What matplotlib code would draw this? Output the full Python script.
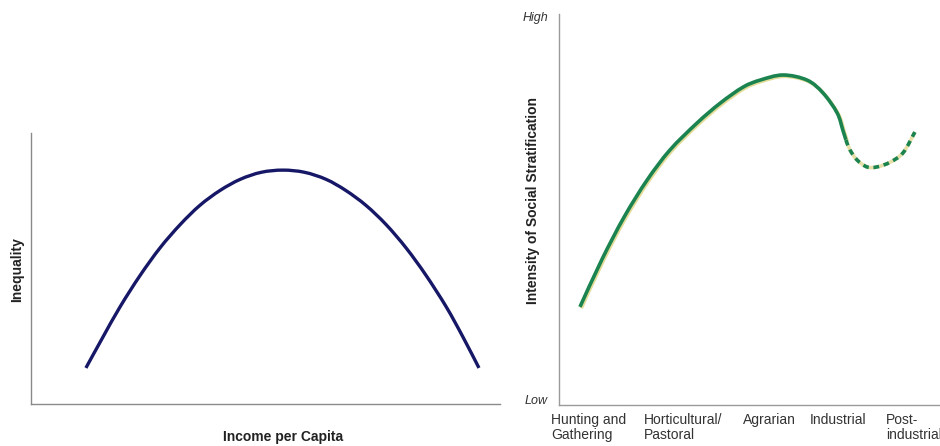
import numpy as np
import matplotlib.pyplot as plt
from matplotlib.path import Path
from matplotlib.patches import PathPatch
from matplotlib.transforms import ScaledTranslation, blended_transform_factory

plt.rcParams['font.family'] = ['Liberation Sans', 'DejaVu Sans']

# left panel: Kuznets curve (0-100 scale)
income = [11.7, 15.3, 19.0, 23.2, 27.5, 31.8, 36.0, 40.3, 44.6, 49.1, 53.7,
          58.3, 62.9, 67.1, 71.4, 75.7, 80.0, 84.2, 88.5, 92.0, 95.5]
inequality = [13.3, 24.6, 35.9, 47.3, 57.6, 66.2, 73.3, 78.8, 82.9, 85.5, 86.3,
              85.5, 82.9, 78.8, 73.3, 66.2, 57.5, 47.5, 35.9, 25.0, 13.3]

# right panel: stratification by society type
stage_solid = [5.5, 11.3, 17.1, 23.1, 29.1, 36.2, 42.3, 48.3, 52.8, 58.8,
               65.1, 69.3, 73.0, 74.5, 75.3]
strat_solid = [25.1, 37.3, 48.1, 57.5, 65.2, 72.1, 77.2, 81.3, 83.1, 84.4,
               83.1, 79.8, 74.7, 70.3, 67.8]
stage_dash = [75.3, 76.4, 78.2, 80.8, 83.5, 86.9, 90.3, 93.4]
strat_dash = [67.8, 65.2, 62.7, 60.9, 60.9, 62.1, 64.5, 69.8]

stage_pos = [-2.1, 22.3, 48.3, 65.9, 85.8]
stage_labels = ['Hunting and\nGathering', 'Horticultural/\nPastoral', 'Agrarian',
                'Industrial', 'Post-\nindustrial']


def smooth_path(xs, ys):
    # catmull-rom through the points, as cubic bezier segments
    p = np.column_stack([xs, ys]).astype(float)
    verts = [p[0]]
    codes = [Path.MOVETO]
    for i in range(len(p) - 1):
        p0 = p[i - 1] if i > 0 else p[i]
        p3 = p[i + 2] if i + 2 < len(p) else p[i + 1]
        c1 = p[i] + (p[i + 1] - p0) / 6
        c2 = p[i + 1] - (p3 - p[i]) / 6
        verts += [c1, c2, p[i + 1]]
        codes += [Path.CURVE4] * 3
    return Path(verts, codes)


fig = plt.figure(figsize=(9.4, 4.46), dpi=100)

ax1 = fig.add_axes([0.033, 0.0942, 0.499, 0.6076])
ax1.add_patch(PathPatch(smooth_path(income, inequality), fill=False,
                        edgecolor='#161766', lw=2.4, capstyle='butt'))
ax1.set_xlim(0, 100)
ax1.set_ylim(0, 100)
for s in ['top', 'right']:
    ax1.spines[s].set_visible(False)
for s in ['left', 'bottom']:
    ax1.spines[s].set_color('#8a8a8a')
    ax1.spines[s].set_linewidth(1.0)
ax1.set_xticks([])
ax1.set_yticks([])
fig.text(283 / 940, 1 - 437 / 446, 'Income per Capita', ha='center', va='center',
         fontsize=10, fontweight='bold', color='#222222')
fig.text(17 / 940, 1 - 270 / 446, 'Inequality', ha='center', va='center',
         rotation=90, fontsize=10, fontweight='bold', color='#222222')

ax2 = fig.add_axes([0.5947, 0.0919, 0.4053, 0.8767])
ax2.set_xlim(0, 100)
ax2.set_ylim(0, 100)
shift = ax2.transData + ScaledTranslation(1.3 / 100, -1.3 / 100, fig.dpi_scale_trans)
ax2.add_patch(PathPatch(smooth_path(stage_solid, strat_solid), fill=False,
                        edgecolor='#e3dc98', lw=2.6, capstyle='butt', transform=shift))
ax2.add_patch(PathPatch(smooth_path(stage_solid, strat_solid), fill=False,
                        edgecolor='#1b8350', lw=2.6, capstyle='butt'))
ax2.add_patch(PathPatch(smooth_path(stage_dash, strat_dash), fill=False,
                        edgecolor='#e6e0a8', lw=2.6, capstyle='butt'))
ax2.add_patch(PathPatch(smooth_path(stage_dash, strat_dash), fill=False,
                        edgecolor='#1b8350', lw=2.6, capstyle='butt',
                        linestyle=(0, (1.6, 1.3))))
for s in ['top', 'right']:
    ax2.spines[s].set_visible(False)
for s in ['left', 'bottom']:
    ax2.spines[s].set_color('#9a9a9a')
    ax2.spines[s].set_linewidth(1.0)
ax2.set_yticks([])
ax2.set_xticks([])
lab_tr = blended_transform_factory(ax2.transData, fig.transFigure)
for pos, lab in zip(stage_pos, stage_labels):
    ax2.text(pos, 1 - 413 / 446, lab, transform=lab_tr, ha='left', va='top',
             fontsize=10, color='#333333', linespacing=1.05, clip_on=False)
fig.text(548 / 940, 1 - 18 / 446, 'High', ha='right', va='center', fontsize=9,
         style='italic', color='#333333')
fig.text(548 / 940, 1 - 401 / 446, 'Low', ha='right', va='center', fontsize=9,
         style='italic', color='#333333')
fig.text(533 / 940, 1 - 200 / 446, 'Intensity of Social Stratification', ha='center',
         va='center', rotation=90, fontsize=10, fontweight='bold', color='#222222')

fig.savefig('out.png', dpi=100)
